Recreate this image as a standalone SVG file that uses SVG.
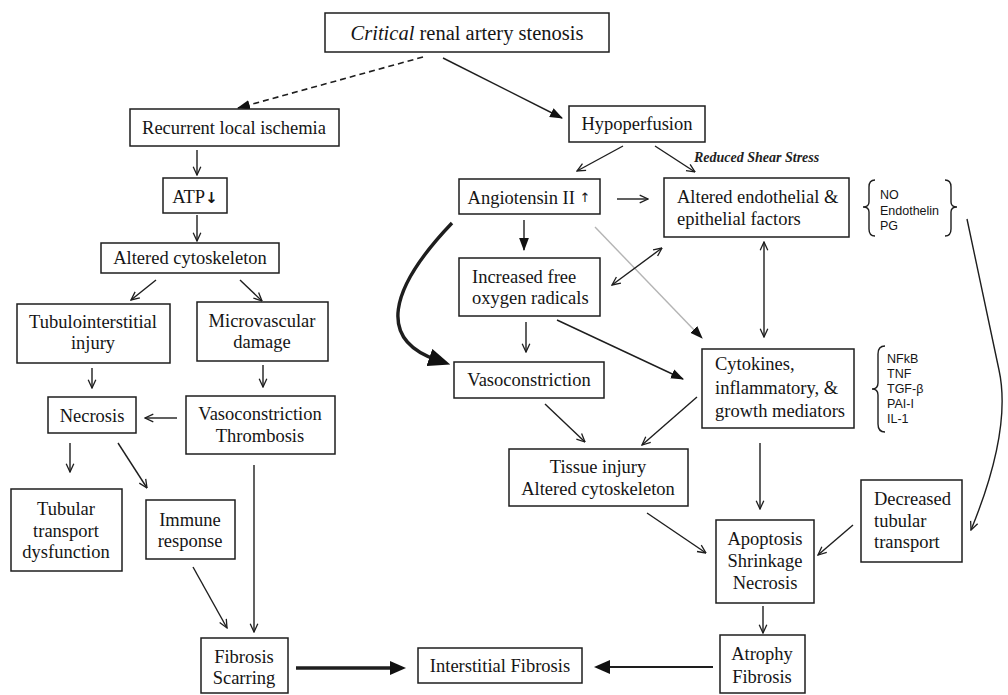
<svg xmlns="http://www.w3.org/2000/svg" width="1008" height="695" viewBox="0 0 1008 695">
  <style>
    .bg { fill: #ffffff; }
    .box { fill: #ffffff; stroke: #1e1e1e; stroke-width: 1.5; }
    .t { font-family: "Liberation Serif", "Times New Roman", serif; font-size: 18.5px; fill: #151515; }
    .mid { text-anchor: middle; }
    .small { font-family: "Liberation Sans", Arial, sans-serif; font-size: 12.5px; fill: #151515; }
    .note { font-family: "Liberation Serif", "Times New Roman", serif; font-size: 14px; font-style: italic; font-weight: bold; fill: #222; }
    .conn { stroke: #1e1e1e; stroke-width: 1.4; fill: none; }
    .open { marker-end: url(#open); }
    .solid { marker-end: url(#solid); }
    .both { marker-start: url(#open); marker-end: url(#open); }
    .thick { stroke-width: 3.4; }
    .dashed { stroke-dasharray: 6 4; stroke-width: 1.6; }
    .faint { stroke: #b4b4b4; stroke-width: 1.4; }
    .brace { stroke: #1e1e1e; stroke-width: 1.4; fill: none; }
  </style>
  <defs>
    <marker id="open" viewBox="0 0 10 10" refX="9.3" refY="5" markerWidth="10" markerHeight="10" markerUnits="userSpaceOnUse" orient="auto-start-reverse">
      <path d="M1,1.2 L9.3,5 L1,8.8" fill="none" stroke="#1e1e1e" stroke-width="1.3"/>
    </marker>
    <marker id="solid" viewBox="0 0 12 10" refX="11" refY="5" markerWidth="13" markerHeight="11" markerUnits="userSpaceOnUse" orient="auto">
      <path d="M0,0.5 L12,5 L0,9.5 z" fill="#111"/>
    </marker>
    <marker id="wide" viewBox="0 0 16 14" refX="6" refY="7" markerWidth="16" markerHeight="14" markerUnits="userSpaceOnUse" orient="auto">
      <path d="M0,0 L16,7 L0,14 z" fill="#111"/>
    </marker>
    <marker id="heavy" viewBox="0 0 22 18" refX="8" refY="9" markerWidth="22" markerHeight="18" markerUnits="userSpaceOnUse" orient="auto">
      <path d="M0,0 L22,9 L0,18 z" fill="#111"/>
    </marker>
  </defs>

  <rect class="bg" x="0" y="0" width="1008" height="695"/>

  <!-- connectors -->
  <g id="connectors">
    <!-- stenosis branches -->
    <line class="conn dashed solid" x1="423" y1="57" x2="238" y2="108"/>
    <line class="conn solid" x1="443" y1="58" x2="562" y2="118"/>

    <!-- ischemia branch -->
    <line class="conn open" x1="197" y1="150" x2="197" y2="175"/>
    <line class="conn open" x1="197" y1="215" x2="197" y2="241"/>
    <line class="conn open" x1="156" y1="280" x2="131" y2="300"/>
    <line class="conn open" x1="240" y1="280" x2="262" y2="301"/>
    <line class="conn open" x1="92" y1="368" x2="92" y2="388"/>
    <line class="conn open" x1="263" y1="365" x2="263" y2="387"/>
    <line class="conn open" x1="177" y1="418" x2="145" y2="418"/>
    <line class="conn open" x1="70" y1="443" x2="70" y2="472"/>
    <line class="conn open" x1="118" y1="443" x2="147" y2="488"/>
    <line class="conn open" x1="254" y1="465" x2="254" y2="632"/>
    <line class="conn open" x1="193" y1="567" x2="227" y2="628"/>
    <line class="conn thick" x1="296" y1="668" x2="396" y2="668" marker-end="url(#wide)"/>
    <line class="conn" style="stroke-width:2" x1="713" y1="667" x2="604" y2="667" marker-end="url(#wide)"/>

    <!-- hypoperfusion branch -->
    <line class="conn open" x1="623" y1="146" x2="577" y2="171"/>
    <line class="conn open" x1="655" y1="146" x2="695" y2="172"/>
    <line class="conn open" x1="617" y1="199" x2="648" y2="199"/>
    <line class="conn solid" x1="524" y1="220" x2="524" y2="250"/>
    <line class="conn faint" x1="595" y1="227" x2="696" y2="332"/>
    <line class="conn" style="stroke:none" x1="595" y1="227" x2="702" y2="338" marker-end="url(#solid)"/>
    <line class="conn both" x1="612" y1="285" x2="662" y2="248"/>
    <line class="conn both" x1="764" y1="242" x2="764" y2="337"/>
    <path class="conn thick" d="M452,223 C388,290 378,340 437,360" marker-end="url(#heavy)"/>
    <line class="conn open" x1="526" y1="322" x2="526" y2="352"/>
    <line class="conn solid" x1="557" y1="320" x2="683" y2="379"/>
    <line class="conn open" x1="545" y1="404" x2="585" y2="442"/>
    <line class="conn open" x1="697" y1="397" x2="642" y2="445"/>
    <line class="conn open" x1="760" y1="443" x2="760" y2="509"/>
    <line class="conn open" x1="647" y1="513" x2="706" y2="553"/>
    <line class="conn open" x1="853" y1="525" x2="818" y2="555"/>
    <line class="conn open" x1="763" y1="606" x2="763" y2="633"/>
    <path class="conn open" d="M967,219 L999,370 Q1012,430 971,530"/>
  </g>

  <!-- nodes -->
  <g id="stenosis">
    <rect class="box" x="325" y="13" width="284" height="39"/>
    <text class="t mid" x="467" y="40" style="font-size:20.5px"><tspan font-style="italic">Critical</tspan> renal artery stenosis</text>
  </g>
  <g id="ischemia">
    <rect class="box" x="130" y="109" width="209" height="37"/>
    <text class="t mid" x="234" y="134">Recurrent local ischemia</text>
  </g>
  <g id="atp">
    <rect class="box" x="163" y="178" width="64" height="35"/>
    <text class="t mid" x="195" y="203">ATP<tspan font-family="DejaVu Sans, sans-serif" font-size="15px" font-weight="bold">↓</tspan></text>
  </g>
  <g id="cytoskeleton-left">
    <rect class="box" x="101" y="243" width="178" height="30"/>
    <text class="t mid" x="190" y="264">Altered cytoskeleton</text>
  </g>
  <g id="tubulointerstitial">
    <rect class="box" x="17" y="304" width="153" height="59"/>
    <text class="t mid" x="93" y="328">Tubulointerstitial</text>
    <text class="t mid" x="93" y="349">injury</text>
  </g>
  <g id="microvascular">
    <rect class="box" x="197" y="302" width="131" height="59"/>
    <text class="t mid" x="262" y="327">Microvascular</text>
    <text class="t mid" x="262" y="348">damage</text>
  </g>
  <g id="necrosis-left">
    <rect class="box" x="48" y="397" width="88" height="36"/>
    <text class="t mid" x="92" y="422">Necrosis</text>
  </g>
  <g id="vaso-thrombosis">
    <rect class="box" x="186" y="396" width="149" height="58"/>
    <text class="t mid" x="260" y="420">Vasoconstriction</text>
    <text class="t mid" x="260" y="442">Thrombosis</text>
  </g>
  <g id="tubular-dysfunction">
    <rect class="box" x="11" y="489" width="111" height="82"/>
    <text class="t mid" x="66" y="515">Tubular</text>
    <text class="t mid" x="66" y="537">transport</text>
    <text class="t mid" x="66" y="558">dysfunction</text>
  </g>
  <g id="immune">
    <rect class="box" x="146" y="500" width="89" height="59"/>
    <text class="t mid" x="190" y="526">Immune</text>
    <text class="t mid" x="190" y="547">response</text>
  </g>
  <g id="fibrosis-scarring">
    <rect class="box" x="201" y="638" width="87" height="55"/>
    <text class="t mid" x="244" y="663">Fibrosis</text>
    <text class="t mid" x="244" y="684">Scarring</text>
  </g>
  <g id="interstitial-fibrosis">
    <rect class="box" x="418" y="648" width="164" height="35"/>
    <text class="t mid" x="500" y="672">Interstitial Fibrosis</text>
  </g>

  <g id="hypoperfusion">
    <rect class="box" x="569" y="106" width="136" height="36"/>
    <text class="t mid" x="637" y="130">Hypoperfusion</text>
  </g>
  <text id="shear-stress" class="note" x="694" y="162">Reduced Shear Stress</text>
  <g id="angiotensin">
    <rect class="box" x="459" y="179" width="141" height="35"/>
    <text class="t mid" x="529" y="204">Angiotensin II <tspan font-family="DejaVu Sans, sans-serif" font-size="13px" dy="-2">↑</tspan></text>
  </g>
  <g id="endothelial">
    <rect class="box" x="664" y="178" width="185" height="59"/>
    <text class="t" x="677" y="203">Altered endothelial &amp;</text>
    <text class="t" x="677" y="225">epithelial factors</text>
  </g>
  <g id="endothelial-factors">
    <path class="brace" d="M875,180 Q869,180 869,187 L869,202 Q869,207 863,207 Q869,207 869,212 L869,229 Q869,236 875,236"/>
    <text class="small" x="880" y="199">NO</text>
    <text class="small" x="880" y="215">Endothelin</text>
    <text class="small" x="880" y="230">PG</text>
    <path class="brace" d="M945,180 Q951,180 951,187 L951,202 Q951,207 957,207 Q951,207 951,212 L951,229 Q951,236 945,236"/>
  </g>
  <g id="free-radicals">
    <rect class="box" x="459" y="258" width="141" height="58"/>
    <text class="t" x="472" y="283">Increased free</text>
    <text class="t" x="472" y="304">oxygen radicals</text>
  </g>
  <g id="vasoconstriction">
    <rect class="box" x="454" y="362" width="150" height="36"/>
    <text class="t mid" x="529" y="386">Vasoconstriction</text>
  </g>
  <g id="cytokines">
    <rect class="box" x="702" y="349" width="152" height="79"/>
    <text class="t" x="715" y="370">Cytokines,</text>
    <text class="t" x="715" y="394">inflammatory, &amp;</text>
    <text class="t" x="715" y="417">growth mediators</text>
  </g>
  <g id="mediators">
    <path class="brace" d="M885,346 Q878,346 878,354 L878,383 Q878,389 872,389 Q878,389 878,395 L878,424 Q878,432 885,432"/>
    <text class="small" x="887" y="363">NFkB</text>
    <text class="small" x="887" y="378">TNF</text>
    <text class="small" x="887" y="393">TGF-β</text>
    <text class="small" x="887" y="408">PAI-I</text>
    <text class="small" x="887" y="423">IL-1</text>
  </g>
  <g id="tissue-injury">
    <rect class="box" x="509" y="449" width="179" height="57"/>
    <text class="t mid" x="598" y="473">Tissue injury</text>
    <text class="t mid" x="598" y="495">Altered cytoskeleton</text>
  </g>
  <g id="apoptosis">
    <rect class="box" x="716" y="520" width="98" height="83"/>
    <text class="t mid" x="765" y="545">Apoptosis</text>
    <text class="t mid" x="765" y="567">Shrinkage</text>
    <text class="t mid" x="765" y="589">Necrosis</text>
  </g>
  <g id="tubular-transport">
    <rect class="box" x="861" y="480" width="101" height="82"/>
    <text class="t" x="874" y="505">Decreased</text>
    <text class="t" x="874" y="527">tubular</text>
    <text class="t" x="874" y="548">transport</text>
  </g>
  <g id="atrophy">
    <rect class="box" x="720" y="635" width="85" height="58"/>
    <text class="t mid" x="762" y="660">Atrophy</text>
    <text class="t mid" x="762" y="683">Fibrosis</text>
  </g>
</svg>
